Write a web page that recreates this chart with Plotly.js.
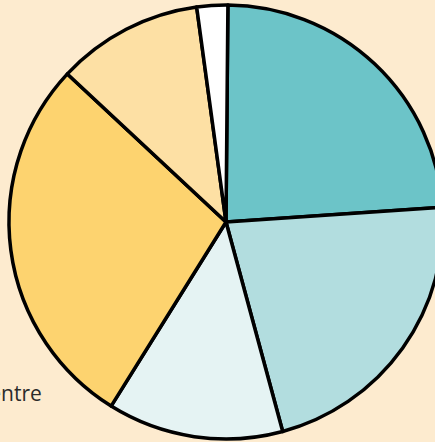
<!DOCTYPE html>
<html>
<head>
<meta charset="utf-8">
<script src="https://cdn.plot.ly/plotly-3.0.1.min.js"></script>
<style>
html, body { margin:0; padding:0; background:#FDEBCF; overflow:hidden; width:435px; height:442px; }
#chart { position:absolute; left:0; top:0; width:470px; height:470px; }
</style>
</head>
<body>
<div id="chart"></div>
<script>
// Data (shares in %)
const labels = ["Gauche", "Centre-gauche", "Centre", "Droite", "Centre-droit", "Sans réponse"];
const values = [23.8, 21.9, 13.1, 28.1, 10.9, 2.3];
const colors = ["#6CC4C8", "#B2DDDF", "#E5F3F3", "#FDD36F", "#FDE0A4", "#FFFFFF"];
const visibleLabel = labels[2];

const trace = {
  type: "pie",
  labels: labels,
  values: values,
  sort: false,
  direction: "clockwise",
  rotation: 0.5,
  textinfo: "none",
  hoverinfo: "label+percent",
  marker: { colors: colors, line: { color: "#000000", width: 3.5 } },
  domain: { x: [0, 1], y: [0, 1] },
  showlegend: false
};

const layout = {
  width: 470,
  height: 470,
  margin: { l: 9, t: 5, r: 27, b: 31 },
  paper_bgcolor: "#FDEBCF",
  plot_bgcolor: "#FDEBCF",
  showlegend: false,
  annotations: [{
    text: visibleLabel,
    xref: "paper", yref: "paper",
    x: (44 - 9) / 434, y: 1 - (393 - 5) / 434,
    xanchor: "right", yanchor: "middle",
    showarrow: false,
    font: { family: "Open Sans", size: 21, color: "#2b2b2b" }
  }]
};

Plotly.newPlot("chart", [trace], layout, { displayModeBar: false, staticPlot: true });
</script>
</body>
</html>
